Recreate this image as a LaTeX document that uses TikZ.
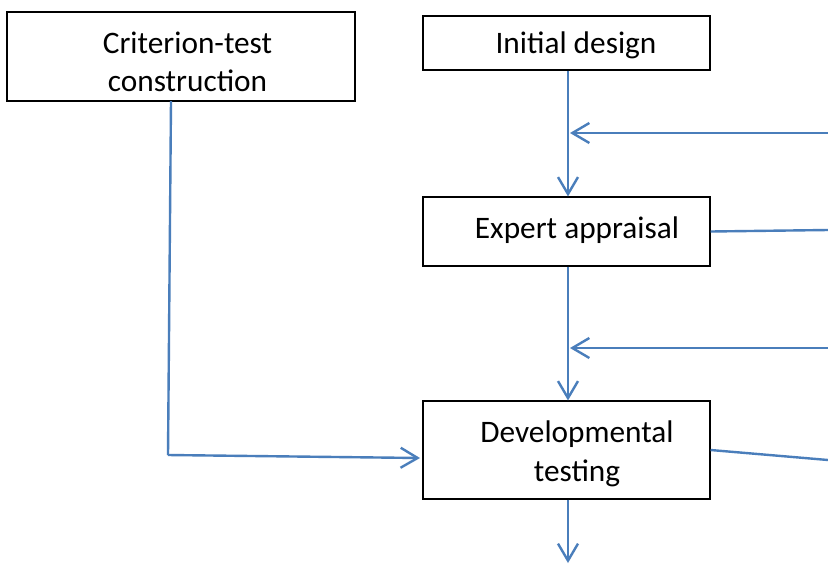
\documentclass[tikz,border=0pt]{standalone}
\usepackage{fontspec}
\setmainfont{Carlito}
\usetikzlibrary{arrows.meta,calc}
\definecolor{lineblue}{HTML}{4A7EBB}
\begin{document}
\begin{tikzpicture}[x=1pt,y=-1pt,
  box/.style={draw=black,line width=1.1pt,inner sep=0pt,fill=white},
  lbl/.style={font=\fontsize{31.3}{38}\selectfont,inner sep=0pt,anchor=base},
  conn/.style={draw=lineblue,line width=2.4pt},
  arr/.style={conn,-{Straight Barb[length=17pt,width=20pt,line width=2.4pt]}}]
\useasboundingbox[fill=white] (0,0) rectangle (828,566);
% boxes
\node[box,minimum width=348pt,minimum height=89pt] (crit) at (181,56.5) {};
\node[box,minimum width=287pt,minimum height=54pt] (init) at (566.5,43) {};
\node[box,minimum width=287pt,minimum height=69pt] (expert) at (566.5,231.5) {};
\node[box,minimum width=287pt,minimum height=98pt] (dev) at (566.5,450) {};
% labels
\node[lbl] (critA) at (187.5,53) {Criterion-test};
\node[lbl] (critB) at (187.5,91) {construction};
\node[lbl] (initL) at (576,53) {Initial design};
\node[lbl] (expertL) at (577,238) {Expert appraisal};
\node[lbl] (devA) at (577,442) {Developmental};
\node[lbl] (devB) at (577,481) {testing};
% free ends
\coordinate (r1) at (828,133);
\coordinate (r2) at (828,230);
\coordinate (r3) at (828,348);
\coordinate (r4) at (828,460);
\coordinate (c0) at (171,101);
\coordinate (c1) at (168,455);
\coordinate (devin) at (420,458);
\coordinate (bottom) at (568,563);
\coordinate (m1) at (570,133);
\coordinate (m2) at (570,348);
% connectors
\draw[arr] (init.south -| bottom) -- (expert.north -| bottom);
\draw[arr] (expert.south -| bottom) -- (dev.north -| bottom);
\draw[arr] (dev.south -| bottom) -- (bottom);
\draw[arr] (r1) -- (m1);
\draw[arr] (r3) -- (m2);
\draw[conn] (expert.east) -- (r2);
\draw[conn] (dev.east) -- (r4);
\draw[conn] (c0) -- (c1);
\draw[arr] (c1) -- (devin);
\end{tikzpicture}
\end{document}
